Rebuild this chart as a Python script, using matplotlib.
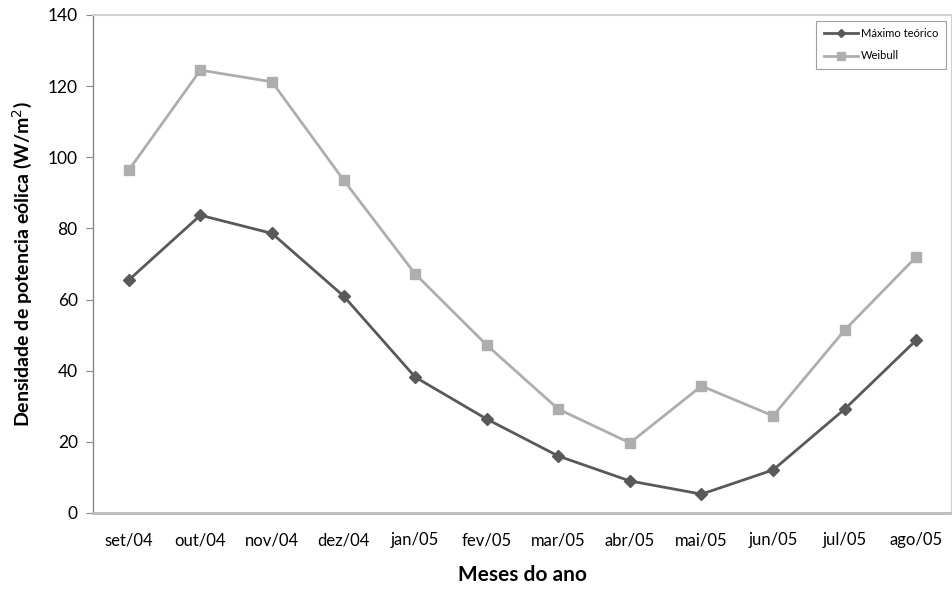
import matplotlib
matplotlib.use("Agg")
import matplotlib.pyplot as plt

months = ["set/04", "out/04", "nov/04", "dez/04", "jan/05", "fev/05",
          "mar/05", "abr/05", "mai/05", "jun/05", "jul/05", "ago/05"]
maximo = [65.5, 83.7, 78.6, 61.0, 38.2, 26.4, 16.0, 9.0, 5.3, 12.1, 29.2, 48.6]
weibull = [96.4, 124.5, 121.2, 93.6, 67.2, 47.2, 29.2, 19.7, 35.7, 27.3, 51.4, 72.0]
yticks = [0, 20, 40, 60, 80, 100, 120, 140]

plt.rcParams['font.family'] = ['Lato', 'DejaVu Sans']

fig = plt.figure(figsize=(9.53, 5.99), dpi=100)
ax = fig.add_axes([0.0976, 0.1436, 0.9014, 0.8314])

x = list(range(len(months)))
ax.plot(x, maximo, color='#595959', lw=2.0, marker='D', ms=6,
        label='Máximo teórico')
ax.plot(x, weibull, color='#AEAEAE', lw=2.0, marker='s', ms=7,
        label='Weibull')

ax.set_xlim(-0.5, len(months) - 0.5)
ax.set_ylim(0, 140)
ax.set_yticks(yticks)
ax.set_xticks(x)
ax.set_xticklabels(months, fontsize=12)
ax.tick_params(axis='y', labelsize=12.5, length=5, color='#888888', pad=6)
ax.tick_params(axis='x', length=0, pad=14)

for s in ['top', 'right']:
    ax.spines[s].set_color('#D0D0D0')
    ax.spines[s].set_linewidth(1.5)
ax.spines['left'].set_color('#888888')
ax.spines['left'].set_linewidth(1.0)
ax.spines['bottom'].set_color('#BBBBBB')
ax.spines['bottom'].set_linewidth(2.0)

ax.set_ylabel('Densidade de potencia eólica (W/m$^2$)', fontsize=14,
              fontweight='bold', labelpad=10)
ax.set_xlabel('Meses do ano', fontsize=15, fontweight='bold', labelpad=12)

leg = ax.legend(loc='upper right', fontsize=8, frameon=True, fancybox=False,
                borderpad=0.7, labelspacing=1.0, handlelength=3,
                markerscale=0.75, handletextpad=0.3,
                bbox_to_anchor=(0.9995, 1.0))
leg.get_frame().set_edgecolor('#888888')
leg.get_frame().set_linewidth(0.8)

fig.savefig('out.png', dpi=100)
